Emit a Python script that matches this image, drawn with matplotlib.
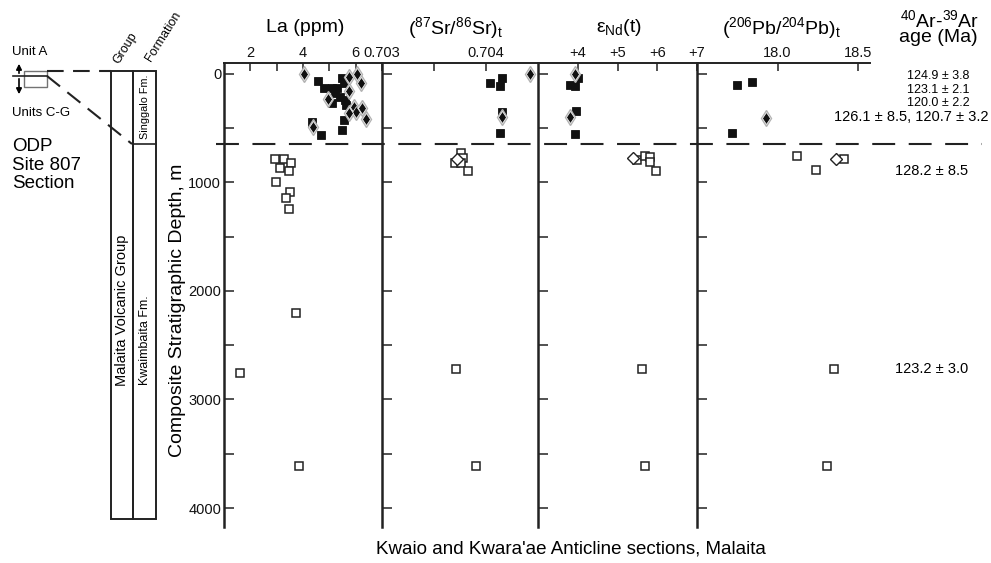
import matplotlib
matplotlib.use('Agg')
import matplotlib.pyplot as plt
import matplotlib.transforms as mtransforms
from matplotlib.lines import Line2D
from matplotlib.patches import Rectangle

plt.rcParams['font.family'] = ['Liberation Sans', 'DejaVu Sans']
plt.rcParams['mathtext.fontset'] = 'custom'
plt.rcParams['mathtext.rm'] = 'Liberation Sans'
plt.rcParams['mathtext.it'] = 'Liberation Sans:italic'

# ---- data (depth in m) ----
# La (ppm)
la_sq_x = [4.58, 4.79, 5.10, 5.28, 5.47, 5.55, 5.42, 5.23, 5.10, 5.60, 5.62, 5.55, 5.48, 4.35, 4.67]
la_sq_d = [70, 130, 130, 130, 40, 80, 210, 175, 270, 240, 290, 425, 515, 440, 560]
la_dia_x = [4.02, 5.74, 6.04, 6.19, 5.74, 4.94, 5.92, 6.23, 6.00, 5.74, 6.38, 4.38]
la_dia_d = [0, 28, 0, 83, 157, 230, 304, 313, 350, 360, 415, 488]
la_open_x = [2.94, 3.26, 3.54, 3.12, 3.45, 2.97, 3.49, 3.35, 3.46, 3.75, 1.60, 3.85]
la_open_d = [786, 783, 823, 863, 894, 992, 1090, 1146, 1244, 2200, 2753, 3613]

# (87Sr/86Sr)t
sr_sq_x = [0.70404, 0.70415, 0.70413, 0.70415, 0.70413]
sr_sq_d = [86, 40, 110, 347, 547]
sr_dia_x = [0.70442, 0.70415]
sr_dia_d = [0, 393]
sr_open_x = [0.70376, 0.70378, 0.70370, 0.70376, 0.70383, 0.70371, 0.70390]
sr_open_d = [725, 777, 817, 823, 891, 2722, 3610]
sr_odia_x = [0.70372]
sr_odia_d = [786]

# eNd(t)
nd_sq_x = [4.00, 3.80, 3.94, 3.95, 3.94]
nd_sq_d = [40, 101, 110, 341, 553]
nd_dia_x = [3.92, 3.80]
nd_dia_d = [0, 393]
nd_open_x = [5.48, 5.68, 5.82, 5.82, 5.97, 5.61, 5.70]
nd_open_d = [793, 753, 768, 808, 891, 2722, 3610]
nd_odia_x = [5.40]
nd_odia_d = [777]

# (206Pb/204Pb)t
pb_sq_x = [17.75, 17.84, 17.72]
pb_sq_d = [101, 74, 544]
pb_dia_x = [17.93]
pb_dia_d = [405]
pb_open_x = [18.12, 18.24, 18.41, 18.35, 18.31]
pb_open_d = [756, 885, 783, 2719, 3613]
pb_odia_x = [18.36]
pb_odia_d = [783]

# 40Ar-39Ar ages and the depth each label sits at
ages_top = ['124.9 \u00b1 3.8', '123.1 \u00b1 2.1', '120.0 \u00b1 2.2']
ages_top_d = [18, 147, 267]
age_long = '126.1 \u00b1 8.5, 120.7 \u00b1 3.2'
age_long_d = 396
ages_low = ['128.2 \u00b1 8.5', '123.2 \u00b1 3.0']
ages_low_d = [894, 2719]

boundary_depth = 650

titles = ['La (ppm)', r'($^{87}$Sr/$^{86}$Sr)$_\mathrm{t}$',
          '\u03b5$_\\mathrm{Nd}$(t)', r'($^{206}$Pb/$^{204}$Pb)$_\mathrm{t}$']

W, H = 991, 563
fig = plt.figure(figsize=(W / 100, H / 100), dpi=100)


def fx(px):
    return px / W


def fy(py):
    return 1 - py / H


# background axes in pixel units for the stratigraphic column and labels
bg = fig.add_axes([0, 0, 1, 1])
bg.set_xlim(0, W)
bg.set_ylim(H, 0)
bg.axis('off')

top, bottom = 63, 527
panels = [(224, 382), (382, 538), (538, 697), (697, 870)]
xlims = [(1, 7), (0.703, 0.7045), (3, 7), (17.5, 18.574)]
ink = '#222222'

axes = []
for (left, right), xl in zip(panels, xlims):
    ax = fig.add_axes([fx(left), fy(bottom), fx(right - left), (bottom - top) / H])
    ax.patch.set_alpha(0)
    ax.set_xlim(*xl)
    ax.set_ylim(4175, -100)
    for s in ['right', 'bottom']:
        ax.spines[s].set_visible(False)
    ax.spines['left'].set_linewidth(1.8)
    ax.spines['left'].set_color(ink)
    ax.spines['top'].set_linewidth(1.4)
    ax.spines['top'].set_color(ink)
    ax.xaxis.tick_top()
    ax.tick_params(axis='x', which='both', direction='in', length=6, width=1.1,
                   colors=ink, labelsize=10.5, pad=2, labelcolor='#111')
    ax.tick_params(axis='y', which='both', direction='in', length=7, width=1.1,
                   colors=ink, labelsize=10.5, pad=2, labelcolor='#111')
    ax.set_yticks([0, 1000, 2000, 3000, 4000])
    ax.set_yticks([500, 1500, 2500, 3500], minor=True)
    axes.append(ax)

ax_la, ax_sr, ax_nd, ax_pb = axes
for ax in axes[1:]:
    ax.tick_params(axis='y', labelleft=False)

# x ticks on top
ax_la.set_xticks([2, 4, 6])
ax_la.set_xticks([3, 5], minor=True)
ax_sr.set_xticks([0.703, 0.704])
ax_sr.set_xticklabels(['0.703', '0.704'])
ax_sr.set_xticks([0.7035], minor=True)
ax_nd.set_xticks([4, 5, 6, 7])
ax_nd.set_xticklabels(['+4', '+5', '+6', '+7'])
ax_pb.set_xticks([18.0, 18.5])
ax_pb.set_xticklabels(['18.0', '18.5'])


def plot_panel(ax, sq, dia, opn, odia=None):
    ax.plot(sq[0], sq[1], 's', ms=6.4, mfc='#111', mec='#111', mew=0.6, ls='none', clip_on=False)
    ax.plot(dia[0], dia[1], 'd', ms=8.5, mfc='0.7', mec='0.7', ls='none', clip_on=False)
    ax.plot(dia[0], dia[1], 'd', ms=6.5, mfc='#111', mec='white', mew=0.5, ls='none', clip_on=False)
    ax.plot(opn[0], opn[1], 's', ms=5.6, mfc='white', mec='#222', mew=1.1, ls='none', clip_on=False)
    if odia is not None:
        ax.plot(odia[0], odia[1], 'D', ms=6, mfc='white', mec='#222', mew=1.0, ls='none', clip_on=False)


plot_panel(ax_la, (la_sq_x, la_sq_d), (la_dia_x, la_dia_d), (la_open_x, la_open_d))
plot_panel(ax_sr, (sr_sq_x, sr_sq_d), (sr_dia_x, sr_dia_d), (sr_open_x, sr_open_d), (sr_odia_x, sr_odia_d))
plot_panel(ax_nd, (nd_sq_x, nd_sq_d), (nd_dia_x, nd_dia_d), (nd_open_x, nd_open_d), (nd_odia_x, nd_odia_d))
plot_panel(ax_pb, (pb_sq_x, pb_sq_d), (pb_dia_x, pb_dia_d), (pb_open_x, pb_open_d), (pb_odia_x, pb_odia_d))

# Singgalo / Kwaimbaita boundary across all panels
trans = mtransforms.blended_transform_factory(fig.transFigure, ax_la.transData)
fig.add_artist(Line2D([fx(216), fx(982)], [boundary_depth, boundary_depth], transform=trans,
                      color=ink, lw=1.5, ls=(0, (11, 6.5))))

# panel titles
for t, xc in zip(titles, [305, 455, 619, 781]):
    fig.text(fx(xc), fy(28), t, ha='center', va='center', fontsize=14)

# Ar-Ar ages column
fig.text(fx(939), fy(20), r'$^{40}$Ar-$^{39}$Ar', ha='center', va='center', fontsize=14)
fig.text(fx(938), fy(38), 'age (Ma)', ha='center', va='center', fontsize=14)
tage = mtransforms.blended_transform_factory(fig.transFigure, ax_pb.transData)
for s, d in zip(ages_top, ages_top_d):
    ax_pb.text(fx(938), d, s, transform=tage, ha='center', va='center', fontsize=9, clip_on=False)
ax_pb.text(fx(989), age_long_d, age_long, transform=tage, ha='right', va='center', fontsize=10.5, clip_on=False)
for s, d in zip(ages_low, ages_low_d):
    ax_pb.text(fx(932), d, s, transform=tage, ha='center', va='center', fontsize=10.5, clip_on=False)

# axis labels
bg.text(178, 310, 'Composite Stratigraphic Depth, m', rotation=90, ha='center', va='center', fontsize=14)
bg.text(571, 549, "Kwaio and Kwara'ae Anticline sections, Malaita", ha='center', va='center', fontsize=13.5)

# ---- stratigraphic column on the left ----
col_top, col_bot, sing_bot = 71, 519, 144
bg.add_patch(Rectangle((111, col_top), 22, col_bot - col_top, fill=False, ec=ink, lw=1.4))
bg.add_patch(Rectangle((133, col_top), 23, col_bot - col_top, fill=False, ec=ink, lw=1.4))
bg.plot([133, 156], [sing_bot, sing_bot], color=ink, lw=1.2)
bg.text(121, 66, 'Group', rotation=58, rotation_mode='anchor', ha='left', va='bottom', fontsize=9)
bg.text(154, 64, 'Formation', rotation=58, rotation_mode='anchor', ha='left', va='bottom', fontsize=9)
bg.text(122, 310, 'Malaita Volcanic Group', rotation=90, ha='center', va='center', fontsize=10.5)
bg.text(145, 107, 'Singgalo Fm.', rotation=90, ha='center', va='center', fontsize=7.8)
bg.text(145, 340, 'Kwaimbaita Fm.', rotation=90, ha='center', va='center', fontsize=9)

# ODP Site 807 inset
bg.add_patch(Rectangle((24, col_top), 23, 16, fill=False, ec='0.45', lw=1.0))
bg.plot([13, 47], [76, 76], color=ink, lw=1.2)
bg.annotate('', xy=(19, 61), xytext=(19, 76),
            arrowprops=dict(arrowstyle='-|>', color='k', lw=1.2, mutation_scale=8))
bg.annotate('', xy=(19, 97), xytext=(19, 76),
            arrowprops=dict(arrowstyle='-|>', color='k', lw=1.2, mutation_scale=8))
bg.plot([47, 111], [col_top, col_top], color=ink, lw=1.5, ls=(0, (8, 4.5)))
bg.plot([47, 132], [76, sing_bot], color=ink, lw=1.5, ls=(0, (8, 4.5)))
bg.text(12, 52, 'Unit A', ha='left', va='center', fontsize=9.5)
bg.text(12, 113, 'Units C-G', ha='left', va='center', fontsize=9.5)
bg.text(12, 165, 'ODP\nSite 807\nSection', ha='left', va='center', fontsize=13.5, linespacing=1.12)

fig.savefig('out.png', dpi=100)
